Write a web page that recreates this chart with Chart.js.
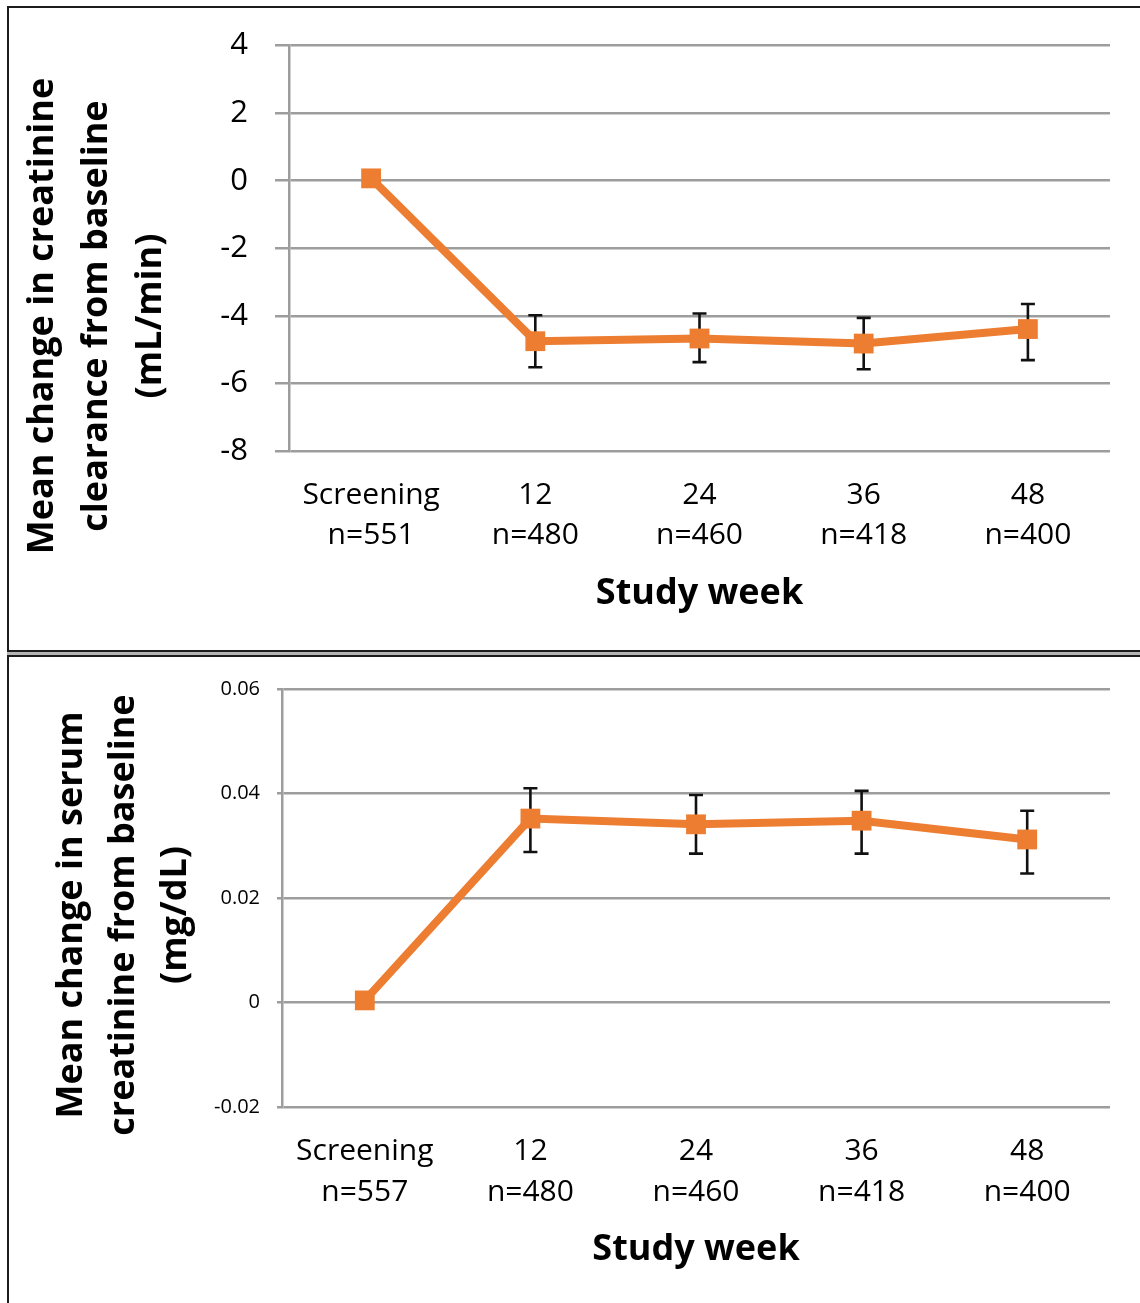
<!DOCTYPE html>
<html>
<head>
<meta charset="utf-8">
<script src="https://cdn.jsdelivr.net/npm/chart.js@4.4.1/dist/chart.umd.min.js"></script>
<style>
  html, body { margin: 0; padding: 0; background: #fff; }
  body { width: 1140px; height: 1303px; position: relative; overflow: hidden; font-family: "Open Sans", sans-serif; }
  .panel { position: absolute; left: 7px; width: 1150px; box-sizing: border-box; border: 2.5px solid #1c1c1c; background: #fff; }
  #panelTop { top: 6px; height: 646px; }
  #panelBottom { top: 655px; height: 660px; }
  #divider { position: absolute; left: 7px; width: 1150px; top: 652px; height: 3px; background: #b4b4b4; }
  canvas { position: absolute; left: 0; }
  #chartTop { top: 0; }
  #chartBottom { top: 655px; }
  .ytitle { position: absolute; font-family: "Open Sans", sans-serif; font-weight: 700; font-size: 36px; color: #000; text-align: center; white-space: nowrap; transform: rotate(-90deg); }
  #titleTop { width: 560px; height: 162px; line-height: 54px; left: -186px; top: 235px; }
  #titleBottom { width: 560px; height: 156px; line-height: 52px; left: -159px; top: 837px; }
</style>
</head>
<body>
<div class="panel" id="panelTop"></div>
<div id="divider"></div>
<div class="panel" id="panelBottom"></div>
<canvas id="chartTop" width="1140" height="650"></canvas>
<canvas id="chartBottom" width="1140" height="648"></canvas>
<div class="ytitle" id="titleTop">Mean change in creatinine<br>clearance from baseline<br>(mL/min)</div>
<div class="ytitle" id="titleBottom">Mean change in serum<br>creatinine from baseline<br>(mg/dL)</div>
<script>
// Study visits and the number of patients at each visit
const weeks = ['Screening', '12', '24', '36', '48'];
const clearanceCounts = ['n=551', 'n=480', 'n=460', 'n=418', 'n=400'];
const creatinineCounts = ['n=557', 'n=480', 'n=460', 'n=418', 'n=400'];

// Mean change in creatinine clearance (mL/min) with error bar limits
const clearanceMean = [0.07, -4.75, -4.67, -4.82, -4.39];
const clearanceLow = [null, -5.52, -5.37, -5.58, -5.31];
const clearanceHigh = [null, -3.98, -3.93, -4.06, -3.65];
const clearanceTicks = ['-8', '-6', '-4', '-2', '0', '2', '4'];

// Mean change in serum creatinine (mg/dL) with error bar limits
const creatinineMean = [0.0004, 0.0352, 0.0341, 0.0348, 0.0312];
const creatinineLow = [null, 0.0288, 0.0285, 0.0285, 0.0247];
const creatinineHigh = [null, 0.0410, 0.0397, 0.0405, 0.0367];
const creatinineTicks = ['-0.02', '0', '0.02', '0.04', '0.06'];

const ORANGE = '#ED7D31';
const GRID = '#9d9d9d';
const FONT = 'Open Sans';

// Vertical whiskers with caps, drawn under the line and markers
const errorBars = {
  id: 'errorBars',
  beforeDatasetsDraw(chart, args, opts) {
    const { ctx } = chart;
    const x = chart.scales.x, y = chart.scales.y;
    ctx.save();
    ctx.strokeStyle = '#111';
    ctx.lineWidth = opts.width || 2.5;
    const half = (opts.cap || 14) / 2;
    opts.low.forEach((lo, i) => {
      const hi = opts.high[i];
      if (lo === null || hi === null) return;
      const px = x.getPixelForValue(i);
      const yLo = y.getPixelForValue(lo);
      const yHi = y.getPixelForValue(hi);
      ctx.beginPath();
      ctx.moveTo(px, yLo); ctx.lineTo(px, yHi);
      ctx.moveTo(px - half, yLo); ctx.lineTo(px + half, yLo);
      ctx.moveTo(px - half, yHi); ctx.lineTo(px + half, yHi);
      ctx.stroke();
    });
    ctx.restore();
  }
};

function buildChart(canvasId, cfg) {
  const labels = weeks.map((w, i) => [w, cfg.counts[i]]);
  return new Chart(document.getElementById(canvasId), {
    type: 'line',
    data: {
      labels,
      datasets: [{
        data: cfg.mean,
        borderColor: ORANGE,
        backgroundColor: ORANGE,
        borderWidth: 8,
        tension: 0,
        pointStyle: 'rect',
        pointRadius: 14,
        pointHoverRadius: 14,
        pointBorderWidth: 0,
        pointBackgroundColor: ORANGE,
        clip: false
      }]
    },
    options: {
      responsive: false,
      animation: false,
      devicePixelRatio: 1,
      events: [],
      layout: { padding: { top: cfg.padTop, right: 30, bottom: 0, left: 0 } },
      plugins: {
        legend: { display: false },
        tooltip: { enabled: false },
        errorBars: { low: cfg.low, high: cfg.high, cap: 14, width: 2.6 }
      },
      scales: {
        x: {
          offset: true,
          grid: { display: false, drawTicks: false },
          border: { display: false },
          afterFit(scale) { scale.height = cfg.xHeight; },
          ticks: {
            color: '#000',
            maxRotation: 0,
            autoSkip: false,
            padding: cfg.xPad,
            font: { family: FONT, size: 30, lineHeight: cfg.xLine }
          },
          title: {
            display: true,
            text: 'Study week',
            color: '#000',
            font: { family: FONT, size: 36, weight: 'bold', lineHeight: 1.2 },
            padding: { top: 0, bottom: cfg.titlePad }
          }
        },
        y: {
          min: cfg.min,
          max: cfg.max,
          afterFit(scale) { scale.width = cfg.left; },
          afterBuildTicks(scale) {
            scale.ticks = cfg.ticks.map(t => ({ value: Number(t) }));
          },
          grid: { color: GRID, lineWidth: 2.5, tickLength: cfg.tickLen, tickColor: GRID },
          border: { display: true, color: GRID, width: 2.5 },
          ticks: {
            color: '#000',
            padding: cfg.yPad,
            font: { family: FONT, size: cfg.yFont },
            callback: (v, i) => cfg.ticks[i]
          }
        }
      }
    },
    plugins: [errorBars]
  });
}

buildChart('chartTop', {
  counts: clearanceCounts, mean: clearanceMean, low: clearanceLow, high: clearanceHigh,
  ticks: clearanceTicks, min: -8, max: 4,
  padTop: 43, left: 289, xHeight: 199, xPad: 24, xLine: '40px', titlePad: 35,
  tickLen: 14, yPad: 27, yFont: 31
});

buildChart('chartBottom', {
  counts: creatinineCounts, mean: creatinineMean, low: creatinineLow, high: creatinineHigh,
  ticks: creatinineTicks, min: -0.02, max: 0.06,
  padTop: 34, left: 282, xHeight: 196, xPad: 24, xLine: '41px', titlePad: 32,
  tickLen: 5, yPad: 17, yFont: 20
});
</script>
</body>
</html>
